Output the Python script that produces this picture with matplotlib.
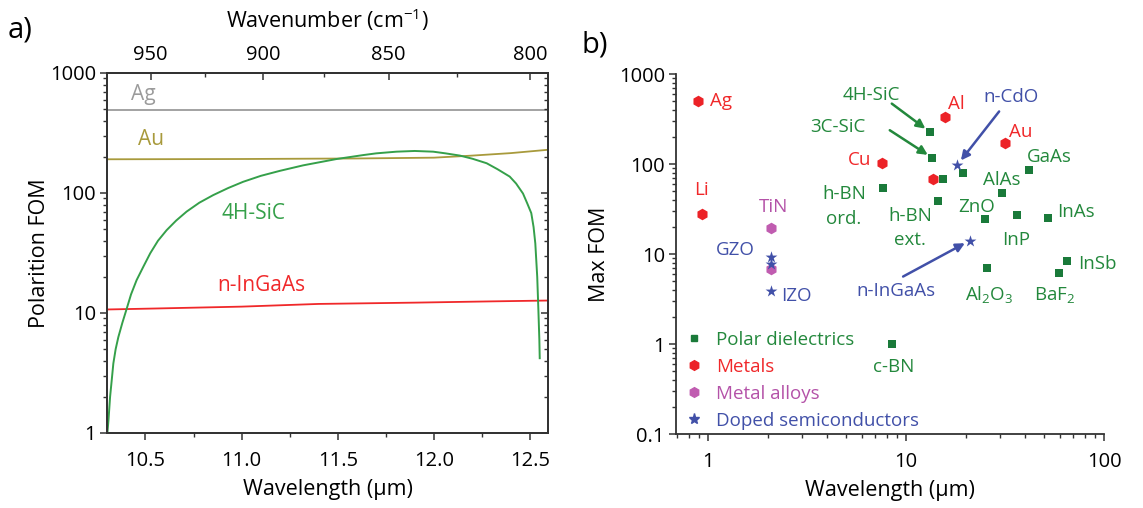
import matplotlib
matplotlib.use('Agg')
import matplotlib.pyplot as plt
from matplotlib.ticker import FixedLocator, FuncFormatter, LogLocator, NullFormatter
from matplotlib.lines import Line2D

plt.rcParams['font.family'] = ['Open Sans', 'DejaVu Sans']
plt.rcParams['mathtext.fontset'] = 'custom'
plt.rcParams['mathtext.rm'] = 'Open Sans'

# ---------------- Panel a data ----------------
ag_wl = [10.30, 12.59]
ag_fom = [490, 490]
au_wl = [10.30, 11.0, 11.6, 12.0, 12.2, 12.4, 12.59]
au_fom = [191, 192, 194, 197, 205, 215, 229]
ingaas_wl = [10.30, 10.55, 11.0, 11.4, 11.9, 12.3, 12.59]
ingaas_fom = [10.7, 10.9, 11.3, 11.9, 12.2, 12.5, 12.7]
sic_wl = [10.302, 10.308, 10.316, 10.325, 10.333, 10.345, 10.359, 10.38, 10.402, 10.425,
          10.454, 10.49, 10.525, 10.565, 10.61, 10.66, 10.714, 10.78, 10.852, 10.93,
          11.008, 11.10, 11.199, 11.32, 11.494, 11.632, 11.70, 11.805, 11.90, 11.996,
          12.06, 12.135, 12.20, 12.274, 12.33, 12.394, 12.427, 12.463, 12.485, 12.506,
          12.518, 12.527, 12.537, 12.543, 12.548, 12.55]
sic_fom = [1.0, 1.3, 2.0, 2.8, 3.8, 5.0, 6.3, 8.3, 10.8, 14.3,
           18.8, 24.5, 31.5, 40, 49, 59, 70, 83, 96, 110,
           124, 139, 153, 170, 192, 207, 214, 221, 224, 221,
           214, 205, 193, 177, 158, 137, 120, 99, 82, 68,
           52, 38, 20, 10.6, 6.0, 4.2]
wl_ticks = [10.5, 11.0, 11.5, 12.0, 12.5]
wn_ticks = [950, 900, 850, 800]

# ---------------- Panel b data ----------------
polar_names = ['4H-SiC', '3C-SiC', '', '', 'h-BN\nord.', 'h-BN\next.', 'GaAs', 'AlAs',
               'ZnO', 'InP', 'InAs', 'InSb', 'BaF$_\\mathregular{2}$',
               'Al$_\\mathregular{2}$O$_\\mathregular{3}$', 'c-BN']
polar_wl = [13.2, 13.6, 15.3, 19.5, 7.68, 14.5, 42.0, 30.6, 25.0, 36.5, 52.3, 64.8, 59.3, 25.7, 8.47]
polar_fom = [227, 117, 67.6, 80, 54.6, 38.4, 85, 48, 24.2, 26.8, 25.3, 8.3, 6.2, 7.0, 1.0]

metal_names = ['Ag', 'Li', 'Cu', 'Al', 'Au', '']
metal_wl = [0.894, 0.93, 7.54, 15.7, 31.6, 13.7]
metal_fom = [505, 28, 103, 329, 169, 67.6]

alloy_names = ['TiN', '']
alloy_wl = [2.08, 2.08]
alloy_fom = [19.4, 6.8]

doped_names = ['GZO', '', 'IZO', 'n-CdO', 'n-InGaAs']
doped_wl = [2.08, 2.08, 2.08, 18.2, 21.0]
doped_fom = [9.2, 7.8, 3.9, 98, 14.1]

# label offsets (points) and alignment -- styling only
label_pos = {
    'Ag': (8.6, 0, 'left'), 'Li': (0, 16.8, 'center'), 'Cu': (-7.2, 2.4, 'right'),
    'Al': (2.4, 10, 'left'), 'Au': (3.1, 8.4, 'left'),
    'TiN': (1.7, 15.1, 'center'), 'GZO': (-11.5, 5.3, 'right'), 'IZO': (7.7, -3.6, 'left'),
    'n-CdO': (38.4, 49, 'center'), 'n-InGaAs': (-52.8, -36, 'center'),
    '4H-SiC': (-41.8, 26.4, 'center'), '3C-SiC': (-67.8, 22.3, 'center'),
    'h-BN\nord.': (-28.3, -13.5, 'center'), 'h-BN\next.': (-19.9, -19.1, 'center'),
    'ZnO': (-6, 8.9, 'center'), 'GaAs': (14.4, 9.6, 'center'), 'AlAs': (0, 8.9, 'center'),
    'InP': (-1, -18, 'center'), 'InAs': (19.9, 4, 'center'), 'InSb': (22.3, -2.2, 'center'),
    'BaF$_\\mathregular{2}$': (-2.9, -16.6, 'center'),
    'Al$_\\mathregular{2}$O$_\\mathregular{3}$': (1.4, -19.9, 'center'),
    'c-BN': (1.2, -16.8, 'center'),
}
arrow_tail = {'4H-SiC': (-27.4, 20.4), '3C-SiC': (-30.7, 19.9),
              'n-CdO': (30, 38.4), 'n-InGaAs': (-48, -25.9)}

# colours
C_AG = '#9b9b9b'
C_AU = '#a89a3c'
C_SIC = '#35a04a'
C_RED = '#f0282a'
C_GREEN_M = '#1a7a3a'
C_GREEN_T = '#23883c'
C_RED_M = '#ec2227'
C_MAG = '#c05cb0'
C_MAG_T = '#b452a8'
C_BLUE = '#4150a8'
SPINE = '#333333'

fig = plt.figure(figsize=(11.43, 5.08), dpi=100)
W, H = 1143, 508

def fx(px):
    return px / W

def fy(py):
    return 1 - py / H

fmt = FuncFormatter(lambda v, _: f'{v:g}')

# ================= Panel a =================
axa = fig.add_axes([fx(107), fy(433), fx(548) - fx(107), fy(73) - fy(433)])
axa.set_yscale('log')
axa.set_xlim(10.30, 12.593)
axa.set_ylim(1, 1000)
axa.plot(ag_wl, ag_fom, color=C_AG, lw=1.3)
axa.plot(au_wl, au_fom, color=C_AU, lw=1.3)
axa.plot(ingaas_wl, ingaas_fom, color=C_RED, lw=1.3)
axa.plot(sic_wl, sic_fom, color=C_SIC, lw=1.4)

axa.text(10.49, 668, 'Ag', color=C_AG, fontsize=15, ha='center', va='center')
axa.text(10.53, 277, 'Au', color=C_AU, fontsize=15, ha='center', va='center')
axa.text(11.06, 68, '4H-SiC', color=C_SIC, fontsize=15, ha='center', va='center')
axa.text(11.10, 16.8, 'n-InGaAs', color=C_RED, fontsize=15, ha='center', va='center')

axa.xaxis.set_major_locator(FixedLocator(wl_ticks))
axa.xaxis.set_minor_locator(FixedLocator([10.75, 11.25, 11.75, 12.25]))
axa.xaxis.set_major_formatter(FuncFormatter(lambda v, _: f'{v:.1f}'))
axa.yaxis.set_major_locator(LogLocator(base=10, numticks=10))
axa.yaxis.set_minor_locator(LogLocator(base=10, subs=range(2, 10), numticks=10))
axa.yaxis.set_major_formatter(fmt)
axa.yaxis.set_minor_formatter(NullFormatter())
axa.tick_params(axis='both', which='major', labelsize=14.5, length=5, width=1.1,
                color=SPINE, pad=3, direction='out')
axa.tick_params(axis='x', which='major', pad=8)
axa.tick_params(axis='both', which='minor', length=3, width=1.0, color=SPINE, direction='out')
for sp in axa.spines.values():
    sp.set_linewidth(1.3)
    sp.set_color(SPINE)
axa.set_xlabel('Wavelength (μm)', fontsize=15.5, labelpad=6)
axa.set_ylabel('Polarition FOM', fontsize=15.5, labelpad=0)

# right-side inward ticks
axr = axa.twinx()
axr.set_yscale('log')
axr.set_ylim(1, 1000)
axr.yaxis.set_major_locator(LogLocator(base=10, numticks=10))
axr.yaxis.set_minor_locator(LogLocator(base=10, subs=range(2, 10), numticks=10))
axr.tick_params(axis='y', which='major', direction='in', length=5, width=1.1, color=SPINE,
                labelright=False)
axr.tick_params(axis='y', which='minor', direction='in', length=3, width=1.0, color=SPINE)
axa.tick_params(axis='y', which='both', right=False)
for sp in axr.spines.values():
    sp.set_linewidth(1.3)
    sp.set_color(SPINE)

top = axa.secondary_xaxis('top', functions=(lambda x: 10000.0 / x, lambda x: 10000.0 / x))
top.xaxis.set_major_locator(FixedLocator(wn_ticks))
top.xaxis.set_minor_locator(FixedLocator([925, 875, 825]))
top.xaxis.set_major_formatter(fmt)
top.xaxis.set_minor_formatter(NullFormatter())
top.tick_params(axis='x', which='major', direction='in', length=5, width=1.1, color=SPINE,
                labelsize=14.5, pad=6)
top.tick_params(axis='x', which='minor', direction='in', length=3, width=1.0, color=SPINE)
top.spines['top'].set_linewidth(1.3)
top.spines['top'].set_color(SPINE)
top.set_xlabel('Wavenumber (cm$^{\\mathregular{-1}}$)', fontsize=15.5, labelpad=12)

fig.text(fx(8), fy(30), 'a)', fontsize=21, ha='left', va='center')

# ================= Panel b =================
axb = fig.add_axes([fx(676), fy(434), fx(1104) - fx(676), fy(74) - fy(434)])
axb.set_xscale('log')
axb.set_yscale('log')
axb.set_xlim(0.69, 100)
axb.set_ylim(0.1, 1000)
axb.spines['top'].set_visible(False)
axb.spines['right'].set_visible(False)
for s in ('left', 'bottom'):
    axb.spines[s].set_linewidth(1.3)
    axb.spines[s].set_color(SPINE)

axb.scatter(polar_wl, polar_fom, marker='s', s=40, color=C_GREEN_M, zorder=3, linewidths=0)
axb.scatter(metal_wl, metal_fom, marker='h', s=70, color=C_RED_M, zorder=3, linewidths=0)
axb.scatter(alloy_wl, alloy_fom, marker='h', s=70, color=C_MAG, zorder=3, linewidths=0)
axb.scatter(doped_wl, doped_fom, marker='*', s=80, color=C_BLUE, zorder=4, linewidths=0)

def put_labels(names, wl, fom, color):
    for n, x, y in zip(names, wl, fom):
        if not n:
            continue
        dx, dy, ha = label_pos[n]
        axb.annotate(n, (x, y), xytext=(dx, dy), textcoords='offset points',
                     ha=ha, va='center', fontsize=13.5, color=color,
                     multialignment='center', linespacing=1.45)
        if n in arrow_tail:
            axb.annotate('', (x, y), xytext=arrow_tail[n], textcoords='offset points',
                         arrowprops=dict(arrowstyle='-|>', color=color, lw=1.8,
                                         mutation_scale=13, shrinkA=0, shrinkB=4))

put_labels(polar_names, polar_wl, polar_fom, C_GREEN_T)
put_labels(metal_names, metal_wl, metal_fom, C_RED)
put_labels(alloy_names, alloy_wl, alloy_fom, C_MAG_T)
put_labels(doped_names, doped_wl, doped_fom, C_BLUE)

handles = [
    Line2D([], [], ls='none', marker='s', ms=5, color=C_GREEN_M, label='Polar dielectrics'),
    Line2D([], [], ls='none', marker='h', ms=7, color=C_RED_M, label='Metals'),
    Line2D([], [], ls='none', marker='h', ms=7, color=C_MAG, label='Metal alloys'),
    Line2D([], [], ls='none', marker='*', ms=8, color=C_BLUE, label='Doped semiconductors'),
]
leg = axb.legend(handles=handles, loc='upper left', bbox_to_anchor=(0.008, 0.303),
                 frameon=False, fontsize=13.5, handlelength=1.0, handletextpad=0.65,
                 labelspacing=0.48, borderaxespad=0.0, borderpad=0.3)
for t, c in zip(leg.get_texts(), [C_GREEN_T, C_RED, C_MAG_T, C_BLUE]):
    t.set_color(c)

axb.xaxis.set_major_locator(LogLocator(base=10, numticks=10))
axb.xaxis.set_minor_locator(LogLocator(base=10, subs=range(2, 10), numticks=10))
axb.yaxis.set_major_locator(LogLocator(base=10, numticks=10))
axb.yaxis.set_minor_locator(LogLocator(base=10, subs=range(2, 10), numticks=10))
axb.xaxis.set_major_formatter(fmt)
axb.yaxis.set_major_formatter(fmt)
axb.xaxis.set_minor_formatter(NullFormatter())
axb.yaxis.set_minor_formatter(NullFormatter())
axb.tick_params(axis='both', which='major', labelsize=14.5, length=5, width=1.1,
                color=SPINE, pad=3, direction='out')
axb.tick_params(axis='x', which='major', pad=8)
axb.tick_params(axis='both', which='minor', length=3, width=1.0, color=SPINE, direction='out')
axb.set_xlabel('Wavelength (μm)', fontsize=15.5, labelpad=6)
axb.set_ylabel('Max FOM', fontsize=15.5, labelpad=6)

fig.text(fx(582), fy(45), 'b)', fontsize=21, ha='left', va='center')

fig.savefig('out.png', dpi=100)
